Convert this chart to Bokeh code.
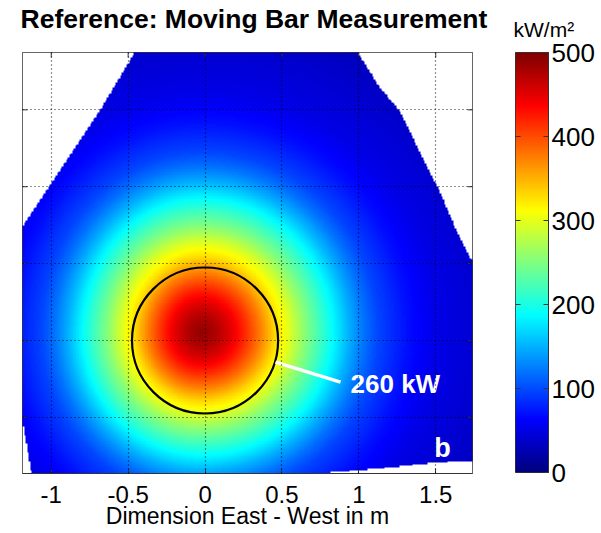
import numpy as np
from bokeh.plotting import figure
from bokeh.layouts import row, column
from bokeh.models import LinearColorMapper, Label, FixedTicker, Range1d
from bokeh.embed import file_html
from bokeh.resources import INLINE

# ---------------- data ----------------
x_ticks = [-1, -0.5, 0, 0.5, 1, 1.5]
y_grid = [-0.5, 0, 0.5, 1.0, 1.5]
cbar_ticks = [0, 100, 200, 300, 400, 500]
cbar_range = [0, 500]
x_extent = [-1.187, 1.739]
y_extent = [-0.865, 1.873]

# flux density (kW/m2) vs distance (m) from spot centre, read upward/rightward
profile_dist_m = [0.0, 0.1, 0.2, 0.3, 0.4, 0.5, 0.6, 0.7, 0.8, 0.9, 1.0, 1.1, 1.2, 1.4, 1.6, 1.9, 2.3]
profile_flux = [490, 475, 450, 415, 375, 330, 295, 255, 220, 185, 150, 120, 97, 70, 52, 40, 25]
spot_center = [-0.025, 0.05]
# relative extent of the spot towards left / right / down / up
spread_left, spread_right, spread_down, spread_up = 0.87, 0.96, 0.9, 0.98

# edges of the measured area (outside is white)
edge_tl_y = [-0.865, -0.566, 0.748, 0.995, 1.515, 1.873]   # left edge x_min(y)
edge_tl_x = [-1.135, -1.187, -1.19, -1.024, -0.679, -0.465]
edge_tr_y = [0.52, 0.566, 0.780, 0.995, 1.086, 1.495, 1.645, 1.873]  # right edge x_max(y)
edge_tr_x = [1.739, 1.713, 1.609, 1.518, 1.466, 1.271, 1.141, 0.998]
edge_bot_x = [0.816, 1.011, 1.206, 1.382, 1.512, 1.726]    # bottom edge y_min(x)
edge_bot_y = [-0.865, -0.850, -0.832, -0.813, -0.800, -0.787]

circle_x = [0.0]
circle_y = [0.0]
circle_r = [0.475]
circle_power = "260 kW"
leader_x = [0.458, 0.881]
leader_y = [-0.141, -0.271]

title_text = "Reference: Moving Bar Measurement"
unit_text = "kW/m²"
x_label = "Dimension East - West in m"

# ---------------- palette (MATLAB jet) ----------------
def jet(n=256):
    cols = []
    for i in range(n):
        t = i / (n - 1)
        r = min(max(1.5 - abs(4 * t - 3), 0), 1)
        g = min(max(1.5 - abs(4 * t - 2), 0), 1)
        b = min(max(1.5 - abs(4 * t - 1), 0), 1)
        cols.append("#%02x%02x%02x" % (int(r * 255), int(g * 255), int(b * 255)))
    return cols

# ---------------- field image ----------------
nx, ny = 300, 280
xs = np.linspace(x_extent[0], x_extent[1], nx)
ys = np.linspace(y_extent[0], y_extent[1], ny)
X, Y = np.meshgrid(xs, ys)
dx = X - spot_center[0]
dy = Y - spot_center[1]
dx = np.where(dx < 0, dx / spread_left, dx / spread_right)
dy = np.where(dy < 0, dy / spread_down, dy / spread_up)
D = np.hypot(dx, dy)
Z = np.interp(D, profile_dist_m, profile_flux)
outside = (X < np.interp(Y, edge_tl_y, edge_tl_x)) | \
          (X > np.interp(Y, edge_tr_y, edge_tr_x)) | \
          (Y < np.interp(X, edge_bot_x, edge_bot_y, left=-10))
Z = np.where(outside, np.nan, Z)

FONT = "Liberation Sans"
EDGE = "#333333"

mapper = LinearColorMapper(palette=jet(), low=cbar_range[0], high=cbar_range[1],
                           nan_color="white")

# ---------------- header strip (title + colour-bar unit) ----------------
HEAD_H = 40
head = figure(width=601, height=HEAD_H, x_range=Range1d(0, 601),
              y_range=Range1d(HEAD_H, 0), output_backend="svg",
              toolbar_location=None, min_border=0,
              x_axis_location=None, y_axis_location=None)
head.grid.visible = False
head.outline_line_color = None
head.add_layout(Label(x=20, y=18, text=title_text, text_color="black",
                      text_font=FONT, text_font_style="bold",
                      text_font_size="26.5px", text_baseline="middle",
                      text_align="left"))
head.add_layout(Label(x=513, y=29, text=unit_text, text_color="black",
                      text_font=FONT, text_font_size="21px",
                      text_baseline="middle", text_align="left"))

# ---------------- main map ----------------
p = figure(frame_width=450, frame_height=421,
           x_range=Range1d(*x_extent), y_range=Range1d(*y_extent),
           output_backend="svg", toolbar_location=None,
           min_border_left=22, min_border_right=16, min_border_top=52 - HEAD_H,
           min_border_bottom=58, y_axis_location=None)

p.image(image=[Z], x=x_extent[0], y=y_extent[0],
        dw=x_extent[1] - x_extent[0], dh=y_extent[1] - y_extent[0],
        color_mapper=mapper)

p.circle(x=circle_x, y=circle_y, radius=circle_r, fill_color=None,
         line_color="black", line_width=2.2)

p.line(x=leader_x, y=leader_y, line_color="white", line_width=3.5)
p.add_layout(Label(x=0.946, y=-0.280, text=circle_power, text_color="white",
                   text_font=FONT, text_font_style="bold", text_font_size="26px",
                   text_baseline="middle", text_align="left"))
p.add_layout(Label(x=1.544, y=-0.702, text="b", text_color="white",
                   text_font=FONT, text_font_style="bold", text_font_size="27px",
                   text_baseline="middle", text_align="center"))

# inward tick marks on left, right and top edges (half of each dash is clipped)
p.scatter(x=[x_extent[0]] * len(y_grid), y=y_grid, marker="dash", size=10,
          line_color=EDGE, line_width=1)
p.scatter(x=[x_extent[1]] * len(y_grid), y=y_grid, marker="dash", size=10,
          line_color=EDGE, line_width=1)
p.scatter(x=x_ticks, y=[y_extent[1]] * len(x_ticks), marker="dash", size=10,
          angle=np.pi / 2, line_color=EDGE, line_width=1)

xt = FixedTicker(ticks=x_ticks)
yt = FixedTicker(ticks=y_grid)
ax = p.xaxis[0]
ax.ticker = xt
ax.major_label_overrides = {t: f"{t:g}" for t in x_ticks}
ax.axis_label = x_label
ax.major_tick_in = 5
ax.major_tick_out = 0
ax.minor_tick_line_color = None
ax.axis_line_color = EDGE
ax.major_tick_line_color = EDGE
ax.major_label_text_font = FONT
ax.major_label_text_font_size = "24px"
ax.major_label_text_color = "black"
ax.major_label_standoff = 12
ax.axis_label_text_font = FONT
ax.axis_label_text_font_size = "23px"
ax.axis_label_text_font_style = "normal"
ax.axis_label_text_color = "black"
ax.axis_label_text_line_height = 1.0
ax.axis_label_standoff = -3

for g, t in [(p.xgrid[0], xt), (p.ygrid[0], yt)]:
    g.ticker = t
    g.grid_line_color = "black"
    g.grid_line_dash = "1 3"
    g.grid_line_width = 1.2
    g.grid_line_alpha = 0.85
    g.level = "overlay"

p.outline_line_color = EDGE

# ---------------- colour bar ----------------
levels = np.linspace(cbar_range[0], cbar_range[1], 256).reshape(-1, 1)
cb = figure(frame_width=33, frame_height=420,
            x_range=Range1d(0, 1), y_range=Range1d(*cbar_range),
            output_backend="svg", toolbar_location=None,
            min_border_left=27, min_border_right=5, min_border_top=52 - HEAD_H,
            min_border_bottom=58, x_axis_location=None, y_axis_location="right")
cb.image(image=[levels], x=0, y=cbar_range[0], dw=1,
         dh=cbar_range[1] - cbar_range[0], color_mapper=mapper)
cb.scatter(x=[0] * len(cbar_ticks), y=cbar_ticks, marker="dash", size=10,
           line_color=EDGE, line_width=1)
cb.grid.visible = False
cb.outline_line_color = EDGE
cy = cb.yaxis[0]
cy.ticker = FixedTicker(ticks=cbar_ticks)
cy.major_label_overrides = {t: str(t) for t in cbar_ticks}
cy.major_tick_in = 5
cy.major_tick_out = 0
cy.minor_tick_line_color = None
cy.axis_line_color = EDGE
cy.major_tick_line_color = EDGE
cy.major_label_text_font = FONT
cy.major_label_text_font_size = "26px"
cy.major_label_text_color = "black"
cy.major_label_standoff = 3

layout = column(head, row(p, cb, spacing=0), spacing=0)
open("out.html", "w").write(file_html(layout, INLINE))
